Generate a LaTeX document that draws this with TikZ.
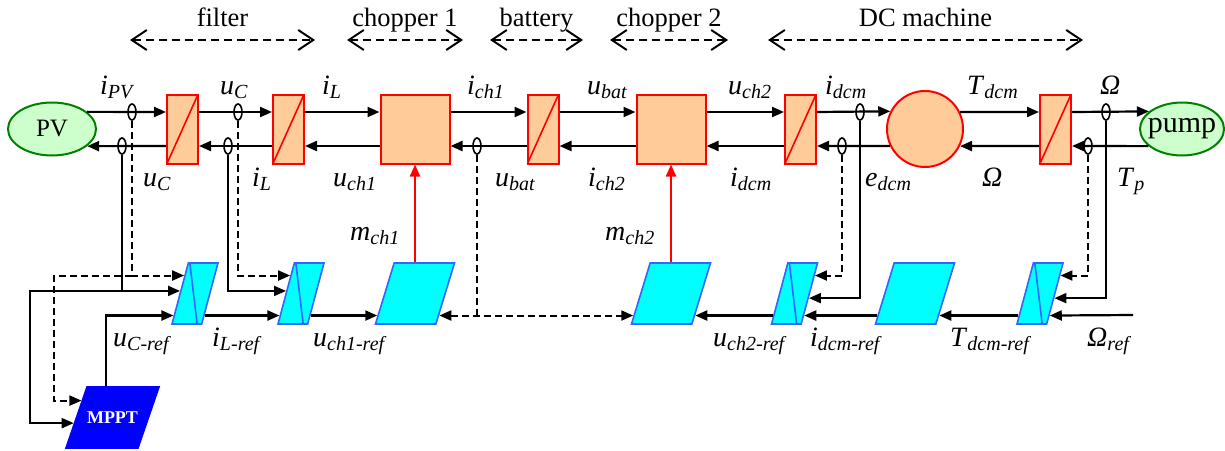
\documentclass[tikz,border=0pt]{standalone}
\usepackage{fontspec}
\setmainfont{Liberation Serif}
\usetikzlibrary{shapes.geometric, arrows.meta, calc}

\definecolor{peach}{RGB}{255,204,153}
\definecolor{ctlcyan}{RGB}{0,255,255}
\definecolor{ctlblue}{RGB}{51,102,255}
\definecolor{srcfill}{RGB}{204,255,204}
\definecolor{srcline}{RGB}{0,128,0}

\newcommand\vlab[2]{\textit{#1}\raisebox{-4pt}{\fontsize{20}{20}\selectfont\textit{#2}}}
\newcommand\ctlh{\rule[-30.5pt]{0pt}{61pt}}

\tikzset{
  conv/.style={draw=red, fill=peach, line width=2pt, minimum width=31pt, minimum height=69pt, inner sep=0pt,
    path picture={\draw[red, line width=1.6pt] (path picture bounding box.south west) -- (path picture bounding box.north east);}},
  blk/.style={draw=red, fill=peach, line width=2pt, minimum size=69pt, inner sep=0pt},
  src/.style={ellipse, draw=srcline, fill=srcfill, line width=2pt, inner sep=0pt, font=\fontsize{25}{28}\selectfont},
  sensor/.style={ellipse, draw, line width=1.6pt, minimum width=8pt, minimum height=16pt, inner sep=0pt},
  ctrl/.style={trapezium, trapezium stretches body, trapezium left angle=75, trapezium right angle=105,
    draw=ctlblue, fill=ctlcyan, line width=1.6pt, minimum width=46pt, inner sep=0pt},
  bigctrl/.style={trapezium left angle=73, trapezium right angle=107, minimum width=79pt},
  sig/.style={line width=2.2pt, -{Triangle[length=12pt,width=10pt]}},
  fbs/.style={line width=2pt, -{Triangle[length=12pt,width=10pt]}},
  fbd/.style={line width=2pt, dash pattern=on 7pt off 4pt, -{Triangle[length=12pt,width=10pt]}},
  mod/.style={red, line width=2.2pt, -{Triangle[length=12pt,width=10pt]}},
  span/.style={line width=2pt, dash pattern=on 8pt off 5pt,
    {Straight Barb[length=15pt,width=20pt]}-{Straight Barb[length=15pt,width=20pt]}},
  title/.style={anchor=base, yshift=14pt, inner sep=0pt, font=\fontsize{26.5}{30}\selectfont},
  lab/.style={anchor=base west, inner sep=0pt, font=\fontsize{28}{30}\selectfont}
}

\begin{document}
\begin{tikzpicture}[x=1pt, y=-1pt]
  \useasboundingbox (0,0) rectangle (1225,450);

  % sections
  \draw[span] (130,40) -- node[title] (tfil) {filter} (315,40);
  \draw[span] (347,40) -- node[title] (tch1) {chopper 1} (463,40);
  \draw[span] (490,40) -- node[title] (tbat) {battery} (583,40);
  \draw[span] (610,40) -- node[title] (tch2) {chopper 2} (728,40);
  \draw[span] (768,40) -- node[title] (tdcm) {DC machine} (1083,40);

  % power chain
  \node[src] (pv) at (52,129) [minimum width=88pt, minimum height=53pt] {PV};
  \node[conv] (f1) at (182.5,129) {};
  \node[conv] (f2) at (288.5,129) {};
  \node[blk] (ch1) at (415,129) {};
  \node[conv] (bat) at (543,129) {};
  \node[blk] (ch2) at (671,129) {};
  \node[conv] (dcb) at (800.5,129) {};
  \node[circle, draw=red, fill=peach, line width=2pt, minimum size=76pt, inner sep=0pt] (dcm) at (925,129) {};
  \node[conv] (tb) at (1055.5,129) {};
  \node[src, font=\fontsize{30}{32}\selectfont] (pump) at (1182,129) [minimum width=84pt, minimum height=53pt] {\makebox[0pt]{pump}};

  \coordinate (up) at (0,112);
  \coordinate (dn) at (0,146);

  \draw[sig] (pv.26.6) -- (f1.west |- up);
  \draw[sig] (f1.west |- dn) -- (pv.-26.6);
  \foreach \a/\b in {f1/f2, f2/ch1, ch1/bat, bat/ch2, ch2/dcb} {
    \draw[sig] (\a.east |- up) -- (\b.west |- up);
    \draw[sig] (\b.west |- dn) -- (\a.east |- dn);
  }
  \draw[sig] (dcb.east |- up) -- (dcm.153.4);
  \draw[sig] (dcm.206.6) -- (dcb.east |- dn);
  \draw[sig] (dcm.26.6) -- (tb.west |- up);
  \draw[sig] (tb.west |- dn) -- (dcm.-26.6);
  \draw[sig] (tb.east |- up) -- (pump.152.2);
  \draw[sig] (pump.207.8) -- (tb.east |- dn);

  % sensors
  \node[sensor] (sa) at (132,112) {};   % i_PV
  \node[sensor] (sb) at (122,146) {};   % u_C
  \node[sensor] (sc) at (238,112) {};   % u_C
  \node[sensor] (sd) at (228,146) {};   % i_L
  \node[sensor] (se) at (477,146) {};   % u_bat
  \node[sensor] (sf) at (860,112) {};   % i_dcm
  \node[sensor] (sg) at (842,146) {};   % e_dcm
  \node[sensor] (sh) at (1106,112) {};  % Omega
  \node[sensor] (si) at (1088,146) {};  % T_p

  % control chain
  \node[ctrl] (c1) at (195,293.5) {\ctlh};
  \node[ctrl] (c2) at (301,293.5) {\ctlh};
  \node[ctrl, bigctrl] (c3) at (415,293.5) {\ctlh};
  \node[ctrl, bigctrl] (c4) at (671,293.5) {\ctlh};
  \node[ctrl] (c5) at (794.5,293.5) {\ctlh};
  \node[ctrl, bigctrl] (c6) at (915,293.5) {\ctlh};
  \node[ctrl] (c7) at (1040,293.5) {\ctlh};
  \node[ctrl, draw=blue, fill=blue, trapezium left angle=71, trapezium right angle=109, minimum width=89pt,
    text=white, font=\fontsize{18}{20}\selectfont\bfseries] (mppt) at (112.5,417.5) {\rule[-24.5pt]{0pt}{61pt}MPPT};

  \foreach \n in {c1,c2,c5,c7}
    \draw[ctlblue, line width=1.6pt] ($(\n.top left corner)+(2,0)$) -- ($(\n.bottom right corner)+(-5,0)$);

  \foreach \n in {c1,c2,c3,c4,c5,c6,c7} {
    \coordinate (\n-li) at ($(\n.bottom left corner)!.148!(\n.top left corner)$);
    \coordinate (\n-ri) at ($(\n.bottom right corner)!.148!(\n.top right corner)$);
  }
  \foreach \n in {c1,c2} {
    \coordinate (\n-fb) at ($(\n.bottom left corner)!.787!(\n.top left corner)$);
    \coordinate (\n-ms) at ($(\n.bottom left corner)!.541!(\n.top left corner)$);
  }
  \foreach \n in {c5,c7} {
    \coordinate (\n-fb) at ($(\n.bottom right corner)!.787!(\n.top right corner)$);
    \coordinate (\n-ms) at ($(\n.bottom right corner)!.426!(\n.top right corner)$);
  }
  \coordinate (mppt-fb) at ($(mppt.bottom left corner)!.77!(mppt.top left corner)$);
  \coordinate (mppt-ms) at ($(mppt.bottom left corner)!.41!(mppt.top left corner)$);
  \coordinate (mppt-out) at ($(mppt.top left corner)!.265!(mppt.top right corner)$);
  \coordinate (kA) at (54,0);
  \coordinate (kB) at (30,0);
  \coordinate (wref) at (1133,315);

  \draw[fbd] (sa.south) |- (c1-fb);
  \draw[fbd] (sa |- c1-fb) -| (kA |- mppt-fb) -- (mppt-fb);
  \draw[fbs] (sb.south) |- (c1-ms);
  \draw[fbs] (sb |- c1-ms) -| (kB |- mppt-ms) -- (mppt-ms);
  \draw[fbd] (sc.south) |- (c2-fb);
  \draw[fbs] (sd.south) |- (c2-ms);
  \draw[sig] (mppt-out) |- (c1-li);
  \draw[sig] (c1-ri) -- (c2-li);
  \draw[sig] (c2-ri) -- (c3-li);
  \draw[mod] (c3.north) -- (ch1.south);
  \draw[fbd, {Triangle[length=12pt,width=10pt]}-{Triangle[length=12pt,width=10pt]}] (c3-ri) -- (c4-li);
  \draw[line width=2pt, dash pattern=on 7pt off 4pt] (se.south) -- (se |- c3-ri);
  \draw[mod] (c4.north) -- (ch2.south);
  \draw[sig] (c5-li) -- (c4-ri);
  \draw[sig] (c6-li) -- (c5-ri);
  \draw[sig] (c7-li) -- (c6-ri);
  \draw[sig] (wref) -- (c7-ri);
  \draw[fbd] (sg.south) |- (c5-fb);
  \draw[fbs] (sf.south) |- (c5-ms);
  \draw[fbd] (si.south) |- (c7-fb);
  \draw[fbs] (sh.south) |- (c7-ms);

  % signal names
  \node[lab] (l1) at (100,94) {\vlab{i}{PV}};
  \node[lab] (l2) at (220,94) {\vlab{u}{C}};
  \node[lab] (l3) at (322,94) {\vlab{i}{L}};
  \node[lab] (l4) at (467,94) {\vlab{i}{ch1}};
  \node[lab] (l5) at (587,94) {\vlab{u}{bat}};
  \node[lab] (l6) at (728,94) {\vlab{u}{ch2}};
  \node[lab] (l7) at (825,94) {\vlab{i}{dcm}};
  \node[lab] (l8) at (967,94) {\vlab{T}{dcm}};
  \node[lab] (l9) at (1100,94) {\textit{Ω}};
  \node[lab] (m1) at (143,186) {\vlab{u}{C}};
  \node[lab] (m2) at (252,186) {\vlab{i}{L}};
  \node[lab] (m3) at (333,186) {\vlab{u}{ch1}};
  \node[lab] (m4) at (495,186) {\vlab{u}{bat}};
  \node[lab] (m5) at (588,186) {\vlab{i}{ch2}};
  \node[lab] (m6) at (730,186) {\vlab{i}{dcm}};
  \node[lab] (m7) at (865,186) {\vlab{e}{dcm}};
  \node[lab] (m8) at (982,186) {\textit{Ω}};
  \node[lab] (m9) at (1117,186) {\vlab{T}{p}};
  \node[lab] (n1) at (350,240) {\vlab{m}{ch1}};
  \node[lab] (n2) at (605,240) {\vlab{m}{ch2}};
  \node[lab] (r1) at (113,346) {\vlab{u}{C-ref}};
  \node[lab] (r2) at (212,346) {\vlab{i}{L-ref}};
  \node[lab] (r3) at (313,346) {\vlab{u}{ch1-ref}};
  \node[lab] (r4) at (713,346) {\vlab{u}{ch2-ref}};
  \node[lab] (r5) at (810,346) {\vlab{i}{dcm-ref}};
  \node[lab] (r6) at (950,346) {\vlab{T}{dcm-ref}};
  \node[lab] (r7) at (1087,346) {\vlab{Ω}{ref}};
\end{tikzpicture}
\end{document}
